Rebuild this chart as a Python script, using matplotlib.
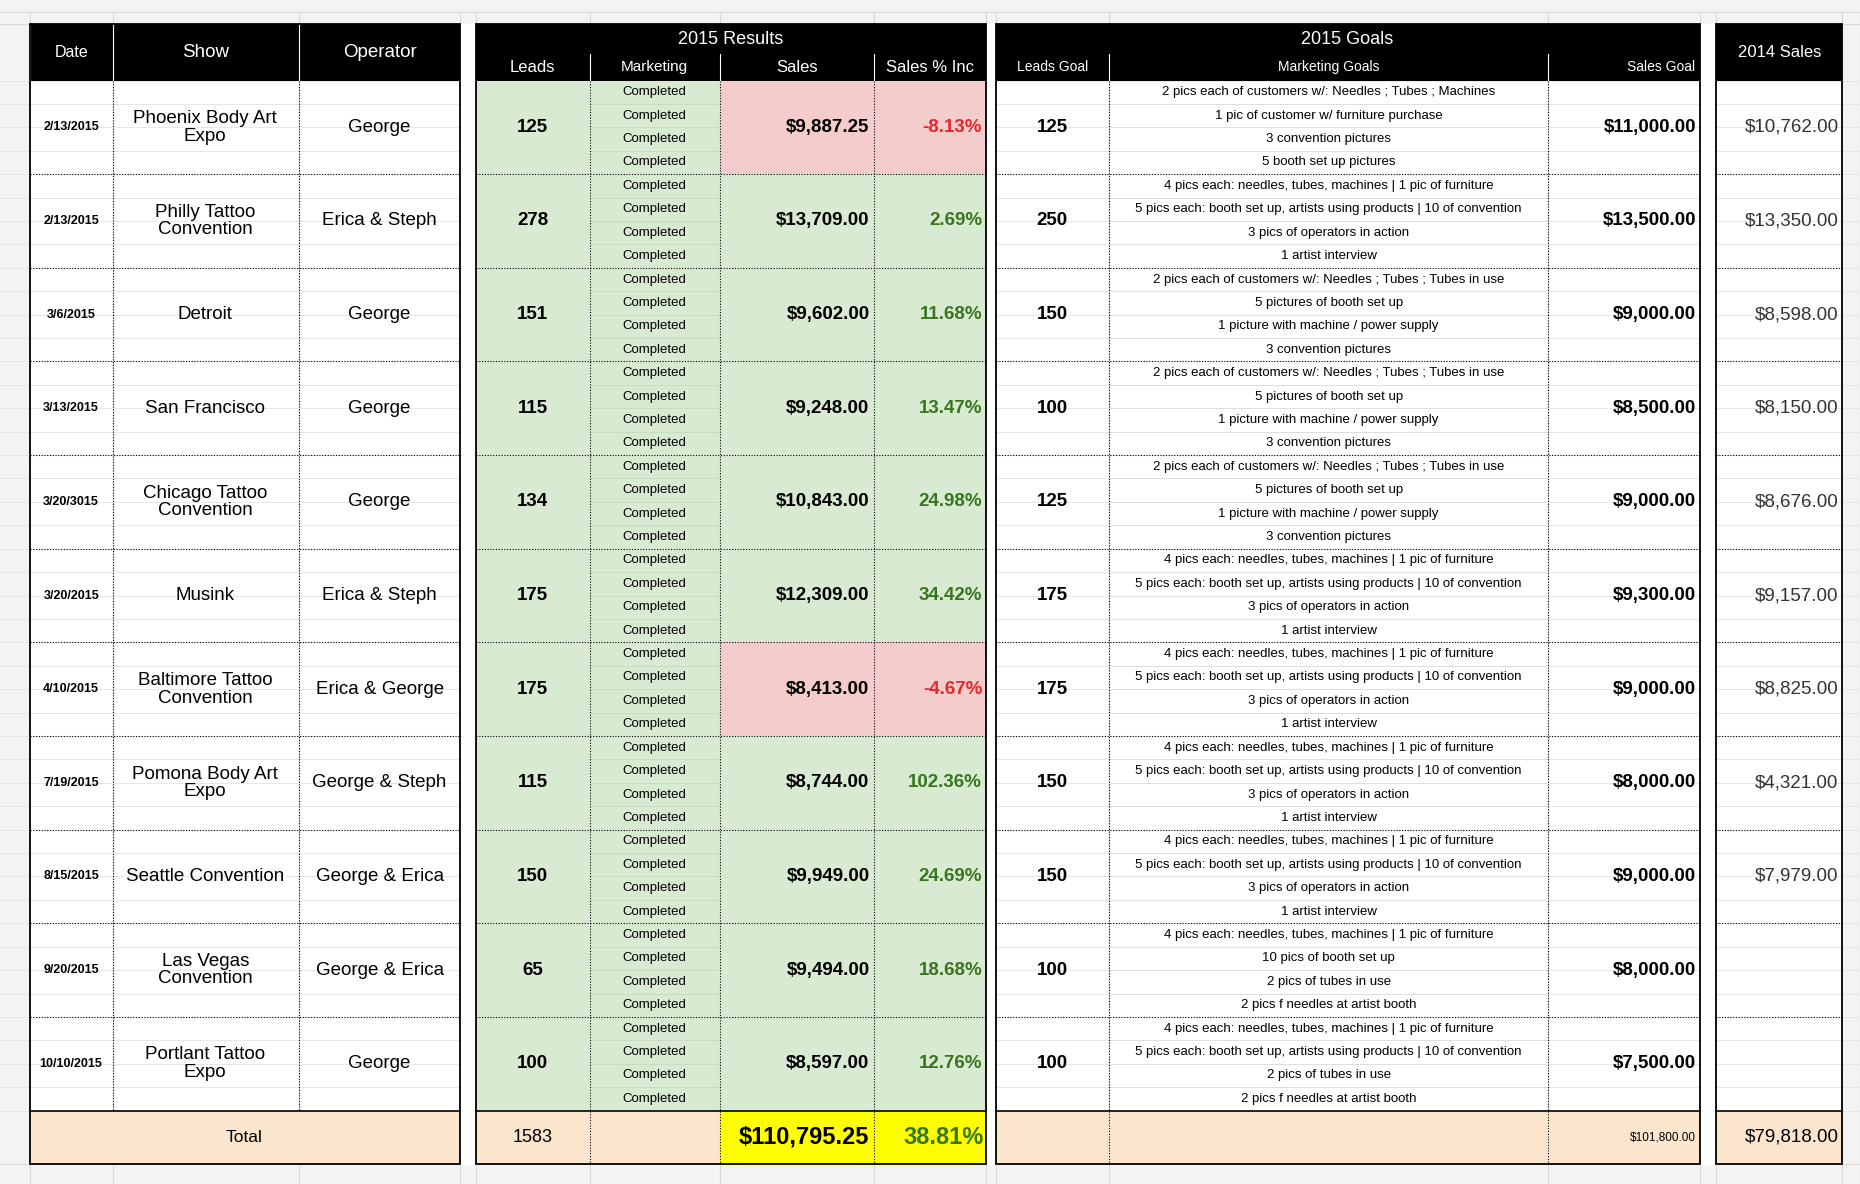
import matplotlib
matplotlib.use("Agg")
import matplotlib.pyplot as plt
from matplotlib.patches import Rectangle

dates = ["2/13/2015","2/13/2015","3/6/2015","3/13/2015","3/20/3015","3/20/2015","4/10/2015","7/19/2015","8/15/2015","9/20/2015","10/10/2015"]
shows = ["Phoenix Body Art\nExpo","Philly Tattoo\nConvention","Detroit","San Francisco","Chicago Tattoo\nConvention","Musink","Baltimore Tattoo\nConvention","Pomona Body Art\nExpo","Seattle Convention","Las Vegas\nConvention","Portlant Tattoo\nExpo"]
operators = ["George","Erica & Steph","George","George","George","Erica & Steph","Erica & George","George & Steph","George & Erica","George & Erica","George"]
leads = [125,278,151,115,134,175,175,115,150,65,100]
sales = ["$9,887.25","$13,709.00","$9,602.00","$9,248.00","$10,843.00","$12,309.00","$8,413.00","$8,744.00","$9,949.00","$9,494.00","$8,597.00"]
pct = ["-8.13%","2.69%","11.68%","13.47%","24.98%","34.42%","-4.67%","102.36%","24.69%","18.68%","12.76%"]
leads_goal = [125,250,150,100,125,175,175,150,150,100,100]
A = ["4 pics each: needles, tubes, machines | 1 pic of furniture","5 pics each: booth set up, artists using products | 10 of convention","3 pics of operators in action","1 artist interview"]
B = ["2 pics each of customers w/: Needles ; Tubes ; Tubes in use","5 pictures of booth set up","1 picture with machine / power supply","3 convention pictures"]
C = ["4 pics each: needles, tubes, machines | 1 pic of furniture","5 pics each: booth set up, artists using products | 10 of convention","2 pics of tubes in use","2 pics f needles at artist booth"]
mkt_goals = [["2 pics each of customers w/: Needles ; Tubes ; Machines","1 pic of customer w/ furniture purchase","3 convention pictures","5 booth set up pictures"],
             A,B,B,B,A,A,A,A,
             ["4 pics each: needles, tubes, machines | 1 pic of furniture","10 pics of booth set up","2 pics of tubes in use","2 pics f needles at artist booth"],C]
sales_goal = ["$11,000.00","$13,500.00","$9,000.00","$8,500.00","$9,000.00","$9,300.00","$9,000.00","$8,000.00","$9,000.00","$8,000.00","$7,500.00"]
sales_2014 = ["$10,762.00","$13,350.00","$8,598.00","$8,150.00","$8,676.00","$9,157.00","$8,825.00","$4,321.00","$7,979.00","",""]
total_leads, total_sales, total_pct, total_goal, total_2014 = "1583","$110,795.25","38.81%","$101,800.00","$79,818.00"

W, H = 1568, 1000
fig = plt.figure(figsize=(18.6, 11.84), dpi=100)
ax = fig.add_axes([0, 0, 1, 1])
ax.set_xlim(0, W); ax.set_ylim(H, 0); ax.axis("off")
plt.rcParams['font.family'] = ['Liberation Sans', 'DejaVu Sans']

cols = [25,95,252,388,401,497,607,737,831,840,935,1305,1433,1447,1553]
y0, y1, yd = 20, 46, 68
rh = (938-68)/11
yt0, yt1 = 938, 983
GREEN, RED, ORANGE, YEL = "#d9ead3", "#f4cccc", "#fce5cd", "#ffff00"

# spreadsheet grid background
ax.add_patch(Rectangle((0,0),W,H,color="#f3f3f3",zorder=0))
ax.add_patch(Rectangle((25,20),1528,963,color="white",zorder=0))
for x in [25,95,252,388,401,497,607,737,831,840,935,1305,1433,1447,1553,1568]:
    ax.plot([x,x],[10,H],color="#d9d9d9",lw=0.8,zorder=0.5)
for k in range(11*4+1):
    y = yd + k*rh/4
    ax.plot([0,W],[y,y],color="#e3e3e3",lw=0.6,zorder=0.5)
for y in [10,20,983,1000]:
    ax.plot([0,W],[y,y],color="#d9d9d9",lw=0.8,zorder=0.5)
for g in [(388,401),(831,840),(1433,1447)]:
    ax.add_patch(Rectangle((g[0],20),g[1]-g[0],963,color="white",zorder=0.6))

def rect(x0,x1,ya,yb,c,z=1):
    ax.add_patch(Rectangle((x0,ya),x1-x0,yb-ya,facecolor=c,edgecolor="none",zorder=z))

def txt(x,y,s,size=13.5,ha="center",color="black",bold=False):
    ax.text(x,y,s,ha=ha,va="center",fontsize=size,color=color,
            fontweight="bold" if bold else "normal",zorder=5,linespacing=1.05)

# headers
for a,b in [(25,388),(401,831),(840,1433),(1447,1553)]:
    rect(a,b,y0,yd,"black",2)
txt(60,44,"Date",11.5,color="white"); txt(173,44,"Show",13.5,color="white")
txt(320,44,"Operator",13.5,color="white"); txt(1500,44,"2014 Sales",12,color="white")
txt(616,33,"2015 Results",13,color="white"); txt(1136,33,"2015 Goals",13,color="white")
for i,(s,sz) in enumerate([("Leads",12),("Marketing",11),("Sales",12),("Sales % Inc",12)]):
    txt((cols[4+i]+cols[5+i])/2,57,s,sz,color="white")
for i,(s,sz,ha) in enumerate([("Leads Goal",10,"center"),("Marketing Goals",10,"center"),("Sales Goal",10,"right")]):
    xx = (cols[9+i]+cols[10+i])/2 if ha=="center" else cols[12]-4
    txt(xx,57,s,sz,ha=ha,color="white")
for x in [25,95,252,388]:
    ax.plot([x,x],[y0,yd],color="white",lw=0.8,zorder=3)
for x in [497,607,737,935,1305]:
    ax.plot([x,x],[y1,yd],color="white",lw=0.8,zorder=3)

# data rows
for r in range(11):
    ya = yd + r*rh; yb = ya + rh; yc = (ya+yb)/2
    neg = pct[r].startswith("-")
    rect(401,831,ya,yb,GREEN)
    if neg: rect(607,831,ya,yb,RED)
    txt(60,yc,dates[r],9,bold=True)
    txt(173,yc,shows[r],13.5)
    txt(320,yc,operators[r],13.5)
    txt(449,yc,str(leads[r]),13.5,bold=True)
    for k in range(4):
        yy = ya + (k+0.5)*rh/4
        txt(552,yy,"Completed",9.5)
        txt(1120,yy,mkt_goals[r][k],9.5)
        if k>0:
            ax.plot([497,607],[ya+k*rh/4]*2,color="#c8d9c2",lw=0.6,zorder=2)
            ax.plot([935,1305],[ya+k*rh/4]*2,color="#dddddd",lw=0.6,zorder=2)
    txt(733,yc,sales[r],13.5,ha="right",bold=True)
    txt(828,yc,pct[r],13.5,ha="right",bold=True,color="#e8262b" if neg else "#38761d")
    txt(887,yc,str(leads_goal[r]),13.5,bold=True)
    txt(1430,yc,sales_goal[r],13.5,ha="right",bold=True)
    txt(1550,yc,sales_2014[r],13.5,ha="right",color="#333333")
    if r>0:
        for a,b in [(25,388),(401,831),(840,1433),(1447,1553)]:
            ax.plot([a,b],[ya,ya],color="black",lw=0.8,ls=(0,(1,1.5)),zorder=3)

# total row
rect(25,388,yt0,yt1,ORANGE); rect(401,607,yt0,yt1,ORANGE)
rect(607,831,yt0,yt1,YEL); rect(840,1433,yt0,yt1,ORANGE); rect(1447,1553,yt0,yt1,ORANGE)
yc = (yt0+yt1)/2
txt(206,yc,"Total",12.5); txt(449,yc,total_leads,13)
txt(733,yc,total_sales,17,ha="right",bold=True)
txt(829,yc,total_pct,17,ha="right",bold=True,color="#38761d")
txt(1430,yc,total_goal,8.5,ha="right")
txt(1550,yc,total_2014,13.5,ha="right")

# vertical inner dotted lines
for x in [95,252,497,607,737,935,1305]:
    ax.plot([x,x],[yd,yt0],color="black",lw=0.8,ls=(0,(1,1.5)),zorder=3)
for x in [95,252]:
    pass
for x in [497,607,737,935,1305]:
    ax.plot([x,x],[yt0,yt1],color="black",lw=0.8,ls=(0,(1,1.5)),zorder=3)
# solid block borders
for a,b in [(25,388),(401,831),(840,1433),(1447,1553)]:
    ax.add_patch(Rectangle((a,y0),b-a,yt1-y0,fill=False,edgecolor="black",lw=1.3,zorder=4))
    ax.plot([a,b],[yt0,yt0],color="black",lw=1.2,zorder=4)

fig.savefig("out.png",dpi=100)
